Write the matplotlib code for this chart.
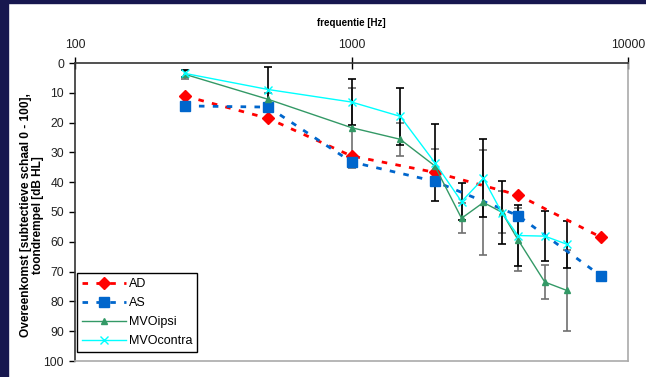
import matplotlib
matplotlib.use("Agg")
import matplotlib.pyplot as plt
from matplotlib.patches import Rectangle

plt.rcParams['font.family'] = ['Liberation Sans', 'DejaVu Sans']

# ---- data ----
freq_a = [250, 500, 1000, 2000, 4000, 8000]
ad = [11.1, 18.6, 31.2, 36.7, 44.3, 58.5]
as_ = [14.4, 14.8, 33.2, 39.7, 51.2, 71.5]

freq_m = [250, 500, 1000, 1500, 2000, 2500, 3000, 3500, 4000, 5000, 6000]
ipsi = [3.8, 12.2, 21.7, 25.6, 34.5, 52.1, 46.8, 50.1, 59.3, 73.5, 76.3]
ipsi_sd = [1.5, 2.0, 13.4, 5.6, 5.8, 5.0, 17.6, 7.0, 10.5, 5.6, 13.7]
contra = [3.5, 8.9, 13.1, 17.9, 33.4, 46.5, 38.7, 50.3, 57.9, 58.1, 60.8]
contra_sd = [1.2, 7.6, 7.8, 9.6, 13.0, 6.1, 13.1, 10.6, 10.3, 8.3, 7.9]

xticks = [100, 1000, 10000]
yticks = list(range(0, 101, 10))

# ---- figure ----
W, H = 646, 377
fig = plt.figure(figsize=(W / 100, H / 100), dpi=100)
fig.patch.set_facecolor('white')
navy = '#17174f'
fig.add_artist(Rectangle((0, 0), 8 / W, 1, transform=fig.transFigure, color=navy, zorder=-10))
fig.add_artist(Rectangle((0, 1 - 3 / H), 1, 3 / H, transform=fig.transFigure, color=navy, zorder=-10))

left, right, top, bottom = 75, 628, 63, 361
aw, ah = right - left, bottom - top
ax = fig.add_axes([left / W, 1 - bottom / H, aw / W, ah / H])

ax.set_xscale('log')
ax.set_xlim(100, 10000)
ax.set_ylim(100, 0)

# error bars
ax.errorbar(freq_m, ipsi, yerr=ipsi_sd, fmt='none', ecolor='#707070', elinewidth=1.2,
            capsize=3, capthick=1.2, zorder=1)
ax.errorbar(freq_m, contra, yerr=contra_sd, fmt='none', ecolor='black', elinewidth=1.2,
            capsize=3, capthick=1.2, zorder=1)

ax.plot(freq_a, ad, color='#ff0000', linestyle=(0, (2, 3)), linewidth=2,
        marker='D', markersize=6, markeredgecolor='#ff0000', label='AD', zorder=3)
ax.plot(freq_a, as_, color='#0066cc', linestyle=(0, (2, 3)), linewidth=2,
        marker='s', markersize=7, markeredgecolor='#0066cc', label='AS', zorder=3)
ax.plot(freq_m, ipsi, color='#339966', linestyle='-', linewidth=1,
        marker='^', markersize=5, label='MVOipsi', zorder=4)
ax.plot(freq_m, contra, color='#00ffff', linestyle='-', linewidth=1,
        marker='x', markersize=6, markeredgewidth=1, label='MVOcontra', zorder=4)

# axes styling
ax.xaxis.tick_top()
ax.xaxis.set_label_position('top')
ax.set_xticks(xticks)
ax.set_xticklabels([str(t) for t in xticks])
ax.minorticks_off()
ax.tick_params(axis='x', which='major', direction='inout', length=8, width=1,
               labelsize=8.7, pad=5, labelcolor='#222222')
ax.set_yticks(yticks)
ax.set_yticklabels([str(t) for t in yticks])
ax.tick_params(axis='y', direction='out', length=4, width=1, labelsize=8.7, pad=4,
               labelcolor='#222222')

ax.spines['top'].set_color('#333333')
ax.spines['left'].set_color('#333333')
ax.spines['right'].set_color('#aaaaaa')
ax.spines['bottom'].set_color('#aaaaaa')
for s in ax.spines.values():
    s.set_linewidth(1.2)

ax.set_xlabel('frequentie [Hz]', fontsize=7, fontweight='bold', labelpad=9)
ax.set_ylabel('Overeenkomst [subtectieve schaal 0 - 100],\ntoondrempel [dB HL]',
              fontsize=8.6, fontweight='bold', linespacing=1.0)
ax.yaxis.set_label_coords((44 - left) / aw, 0.49)

leg = ax.legend(loc='lower left', bbox_to_anchor=(2 / aw, 9 / ah), borderaxespad=0,
                fontsize=9, frameon=True, fancybox=False, edgecolor='black', framealpha=1,
                handlelength=3.5, borderpad=0.4, labelspacing=0.55, handletextpad=0.25)
leg.get_frame().set_linewidth(1)

fig.savefig('out.png', dpi=100)
